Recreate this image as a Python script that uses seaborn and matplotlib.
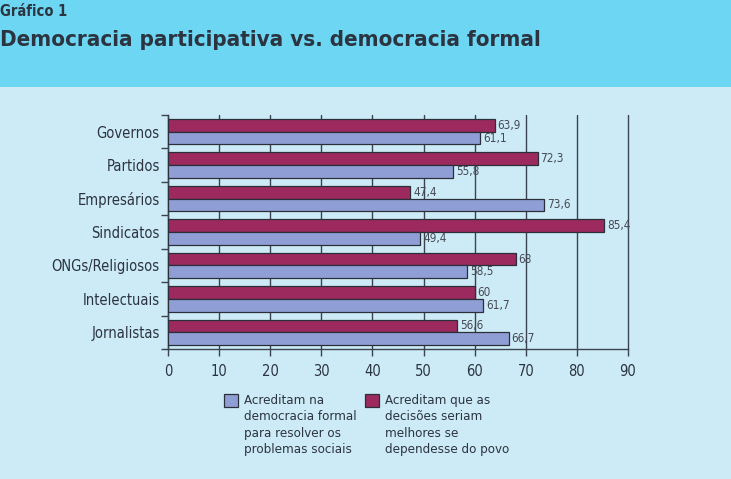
import numpy as np
import pandas as pd
import seaborn as sns
from matplotlib import pyplot as plt
from matplotlib.patches import Rectangle

# * data
categorias = ["Governos", "Partidos", "Empresários", "Sindicatos",
              "ONGs/Religiosos", "Intelectuais", "Jornalistas"]
povo = [63.9, 72.3, 47.4, 85.4, 68, 60, 56.6]
formal = [61.1, 55.8, 73.6, 49.4, 58.5, 61.7, 66.7]

serie_formal = "Acreditam na\ndemocracia formal\npara resolver os\nproblemas sociais"
serie_povo = "Acreditam que as\ndecisões seriam\nmelhores se\ndependesse do povo"

cor_povo = "#9c2a5f"
cor_formal = "#8f9fd6"
cor_texto = "#2b3440"

df = pd.DataFrame({
    "categoria": categorias * 2,
    "valor": povo + formal,
    "serie": [serie_povo] * len(categorias) + [serie_formal] * len(categorias),
})

sns.set_theme(style="white")
plt.rcParams["font.family"] = ["DejaVu Sans"]
plt.rcParams["font.stretch"] = "condensed"

fig = plt.figure(figsize=(7.31, 4.79), dpi=100)
fig.patch.set_facecolor("#cdebf6")
# * header band
fig.add_artist(Rectangle((0, 1 - 87 / 479), 1, 87 / 479, transform=fig.transFigure,
                         facecolor="#6cd6f3", edgecolor="none", zorder=0))
fig.text(0.0, 1 - 12 / 479, "Gráfico 1", fontsize=10.5, fontweight="bold",
         color=cor_texto, va="center", ha="left")
fig.text(0.0, 1 - 40 / 479, "Democracia participativa vs. democracia formal",
         fontsize=16, fontweight="bold", color=cor_texto, va="center", ha="left")

ax = fig.add_axes([168 / 731, 1 - 349 / 479, 460 / 731, 234 / 479])
ax.set_facecolor("none")

sns.barplot(data=df, y="categoria", x="valor", hue="serie", orient="h",
            order=categorias, hue_order=[serie_povo, serie_formal],
            palette=[cor_povo, cor_formal], saturation=1, width=0.76,
            edgecolor="#2b2f3a", linewidth=0.9, ax=ax, zorder=3)

for cont in ax.containers:
    ax.bar_label(cont, labels=[f"{v:g}".replace(".", ",") for v in cont.datavalues],
                 padding=2, fontsize=8.5, color="#454a54")

ax.set_xlim(0, 90)
ax.set_ylim(6.5, -0.5)
ax.set_xticks(np.arange(0, 91, 10))
ax.set_yticks(np.arange(-0.5, 7, 1), minor=True)
ax.tick_params(axis="y", which="major", length=0, pad=6, labelsize=10.5, labelcolor=cor_texto)
ax.tick_params(axis="y", which="minor", length=5, width=1, color="#3a4450", direction="out", left=True)
ax.tick_params(axis="x", which="major", length=5, width=1, color="#3a4450", direction="out",
               bottom=True, pad=6, labelsize=10.5, labelcolor=cor_texto)
ax.xaxis.grid(True, color="#3a4450", linewidth=1, zorder=1)
for gl in ax.get_xgridlines():
    gl.set_clip_on(False)
ax.set_axisbelow(True)
for s in ["top", "right"]:
    ax.spines[s].set_visible(False)
for s in ["left", "bottom"]:
    ax.spines[s].set_color("#3a4450")
    ax.spines[s].set_linewidth(1)
ax.set_xlabel("")
ax.set_ylabel("")

# * legend below the axes, blue first
handles, labels = ax.get_legend_handles_labels()
ax.get_legend().remove()
leg = fig.legend(handles[::-1], labels[::-1], loc="upper left", ncol=2,
                 bbox_to_anchor=(212 / 731, 1 - 382 / 479), frameon=False,
                 fontsize=9.5, handlelength=1.1, handleheight=1.1,
                 handletextpad=0.45, columnspacing=0.6, labelspacing=0.3)
for t in leg.get_texts():
    t.set_color(cor_texto)
    t.set_linespacing(1.35)
# * square handle aligned with the first line of text
for col in leg._legend_handle_box.get_children():
    for item in col.get_children():
        item.align = "top"

fig.savefig("out.png", dpi=100, facecolor=fig.get_facecolor())
